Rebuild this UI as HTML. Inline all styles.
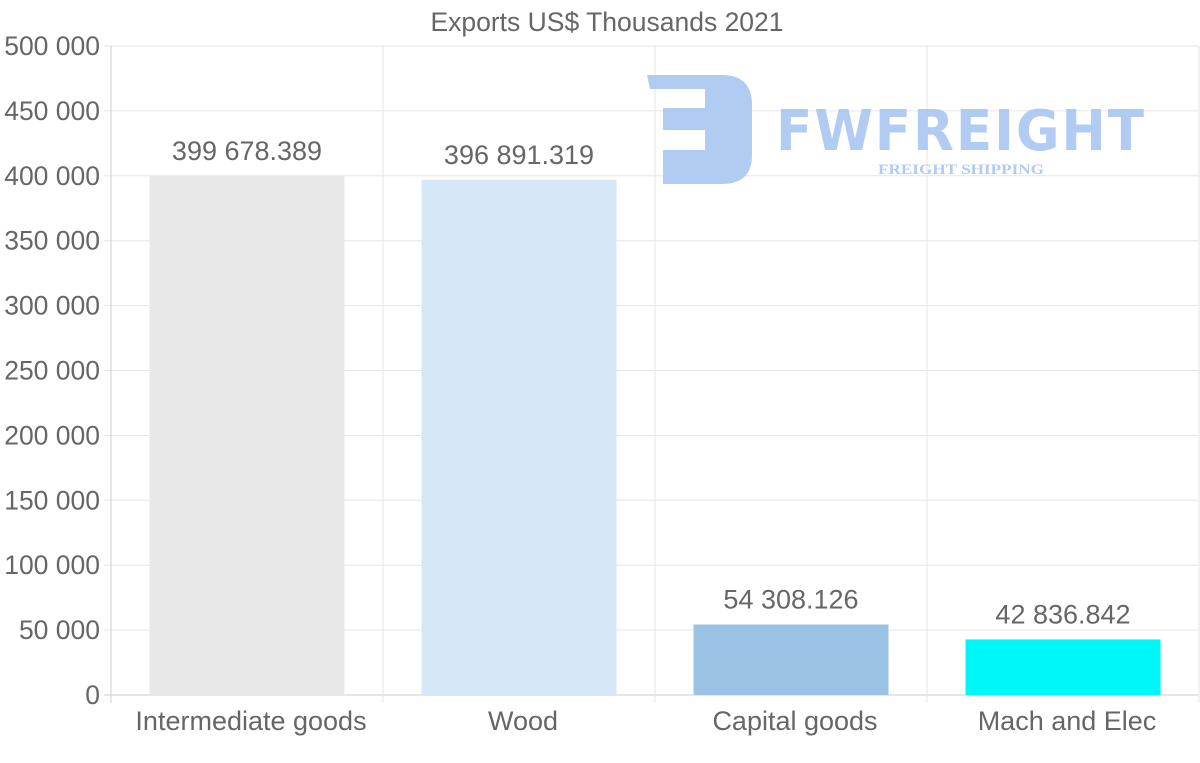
<!DOCTYPE html>
<html><head><meta charset="utf-8"><style>
html,body{margin:0;padding:0;background:#fff;}
svg{display:block;font-family:"Liberation Sans",Arial,sans-serif;}
</style></head><body>
<svg id="chart" width="1200" height="763" viewBox="0 0 1200 763" xmlns="http://www.w3.org/2000/svg">
<text x="607" y="31" text-anchor="middle" font-size="26.5" fill="#666">Exports US$ Thousands 2021</text>
<g id="grid"></g>
<g id="logo" fill="#a9c6f2" opacity="0.9">
<path d="M647 75 L722 75 Q752 75 752 105 L752 155 Q752 184 722 184 L663 184 L663 150 L705 150 L705 130 L663 130 L663 108 L705 108 L705 89 L650 89 Z"/>
<text x="776" y="150" font-size="56" font-weight="bold" letter-spacing="2" font-family="'DejaVu Sans',sans-serif" textLength="370" lengthAdjust="spacingAndGlyphs">FWFREIGHT</text>
<text x="878" y="174" font-size="15" font-weight="bold" font-family="'Liberation Serif',serif" textLength="166" lengthAdjust="spacingAndGlyphs">FREIGHT SHIPPING</text>
</g>
<g id="bars"></g>
<g id="axes"></g>
</svg>
<script>
const categories = ["Intermediate goods","Wood","Capital goods","Mach and Elec"];
const values = [399678.389, 396891.319, 54308.126, 42836.842];
const valueLabels = ["399 678.389","396 891.319","54 308.126","42 836.842"];
const colors = ["#e8e8e8","#d6e7f8","#9ac3e6","#00f7f7"];
const yTicks = [0,50000,100000,150000,200000,250000,300000,350000,400000,450000,500000];
const yTickLabels = ["0","50 000","100 000","150 000","200 000","250 000","300 000","350 000","400 000","450 000","500 000"];

const NS="http://www.w3.org/2000/svg";
const L=111,R=1199,T=46,B=695,yMax=500000;
const y=v=>B-(v/yMax)*(B-T);
const colW=(R-L)/categories.length;
const xc=i=>L+colW*(i+0.5);
function mk(tag,attrs,parent,text){const e=document.createElementNS(NS,tag);for(const k in attrs)e.setAttribute(k,attrs[k]);if(text!==undefined)e.textContent=text;parent.appendChild(e);return e;}
const grid=document.getElementById('grid'),bars=document.getElementById('bars'),axes=document.getElementById('axes');
yTicks.forEach((t,i)=>{
  const g=mk('line',{x1:104,x2:R,y1:y(t),y2:y(t),stroke:t===0?'#ccc':'#e6e6e6','stroke-width':1},grid);
  
  
  const tl=mk('text',{x:100,y:y(t)+9,'text-anchor':'end','font-size':26.5,fill:'#666'},axes,yTickLabels[i]);
  
  
});
for(let i=0;i<=categories.length;i++){
  const x=L+colW*i;
  const v=mk('line',{x1:x,x2:x,y1:T,y2:703,stroke:i===0?'#ccc':'#e6e6e6','stroke-width':1},grid);
  
  
}
const bw=195;
categories.forEach((c,i)=>{
  const b=mk('rect',{x:xc(i)-bw/2,y:y(values[i]),width:bw,height:B-y(values[i]),fill:colors[i]},bars);
  
  
  const vl=mk('text',{x:xc(i),y:y(values[i])-16,'text-anchor':'middle','font-size':27,fill:'#666'},bars,valueLabels[i]);
  
  
  const xl=mk('text',{x:xc(i)+4,y:730,'text-anchor':'middle','font-size':27,fill:'#666'},axes,c);
  
  
});
</script>
</body></html>
